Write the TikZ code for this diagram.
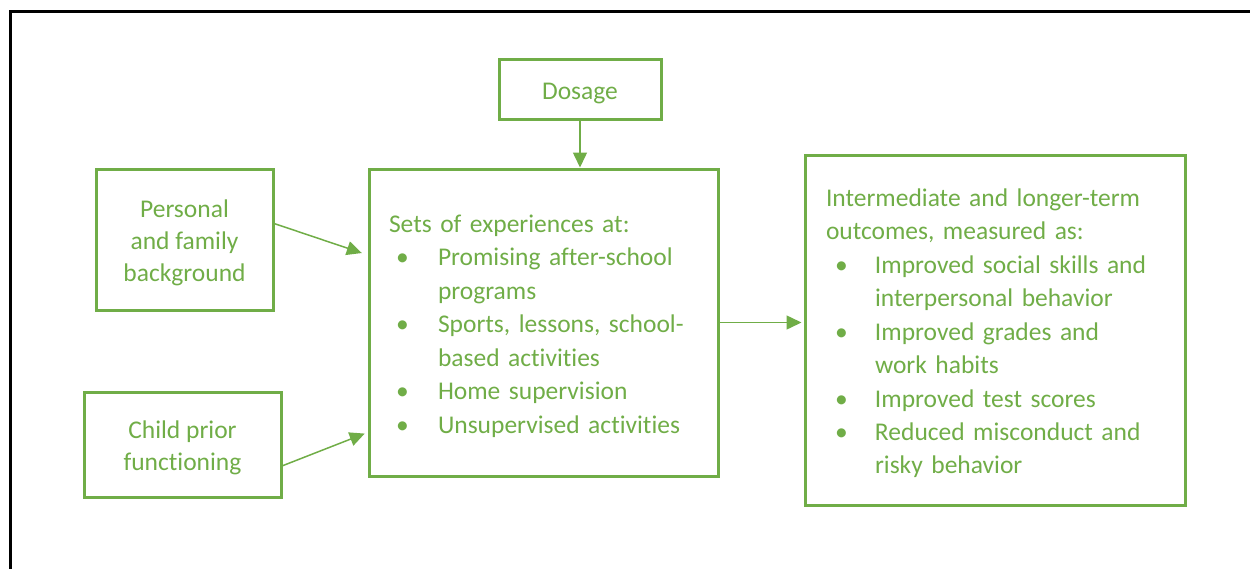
\documentclass[tikz,border=0pt]{standalone}
\usepackage{fontspec}
\setmainfont{Carlito}[Ligatures=NoCommon]
\usepackage{array}
\usetikzlibrary{arrows.meta}
\definecolor{ogreen}{HTML}{70AD47}
\tikzset{box/.style={draw=ogreen,line width=3pt,text=ogreen,inner sep=0pt,
    font=\fontsize{25.5}{32}\selectfont},
  link/.style={draw=ogreen,line width=1.5pt,->}}
\newcommand{\bul}{\hspace*{7pt}\textbullet}
\newcommand{\toppad}{\rule{0pt}{25pt}}

\begin{document}
\begin{tikzpicture}[x=1pt,y=-1pt,>={Triangle[length=15pt,width=14pt]}]
\useasboundingbox (0,0) rectangle (1250,568);
\draw[line width=3pt] (10,580) -- (10,11) -- (1260,11);

\node[box,minimum width=162pt,minimum height=60pt] (dosage) at (580,89) {\toppad Dosage};
\node[box,minimum width=177pt,minimum height=141pt,align=center] (personal) at (184.5,239.5)
  {\toppad Personal\\and family\\background};
\node[box,minimum width=197pt,minimum height=105pt,align=center] (child) at (182.5,444.5)
  {\toppad Child prior\\functioning};

\node[box,minimum width=349pt,minimum height=307pt,text width=309pt,align=left] (experiences) at (543.5,322.5)
  {\renewcommand{\arraystretch}{1.045}%
   \begin{tabular}{@{}p{49pt}@{}l@{}}
   \multicolumn{2}{@{}l}{\rule{0pt}{30.5pt}Sets of experiences at:}\\
   \bul & Promising after-school\\
        & programs\\
   \bul & Sports, lessons, school-\\
        & based activities\\
   \bul & Home supervision\\
   \bul & Unsupervised activities
   \end{tabular}};

\node[box,minimum width=380pt,minimum height=350pt,text width=338pt,align=left] (outcomes) at (995,330)
  {\renewcommand{\arraystretch}{1.045}%
   \begin{tabular}{@{}p{49pt}@{}l@{}}
   \multicolumn{2}{@{}l}{\rule{0pt}{30.5pt}Intermediate and longer-term}\\
   \multicolumn{2}{@{}l}{outcomes, measured as:}\\
   \hspace*{2pt}\bul & Improved social skills and\\
        & interpersonal behavior\\
   \hspace*{2pt}\bul & Improved grades and\\
        & work habits\\
   \hspace*{2pt}\bul & Improved test scores\\
   \hspace*{2pt}\bul & Reduced misconduct and\\
        & risky behavior
   \end{tabular}};

% arrows into the middle box
\draw[link,shorten >=6pt] (personal.10) -- (experiences.159);
\draw[link,shorten >=3pt] (child.-12) -- (experiences.212);
\draw[link] (dosage.south) -- (dosage.south |- experiences.north);
\draw[link,shorten >=2pt] (experiences.east) -- (outcomes.west |- experiences.east);
\end{tikzpicture}
\end{document}
